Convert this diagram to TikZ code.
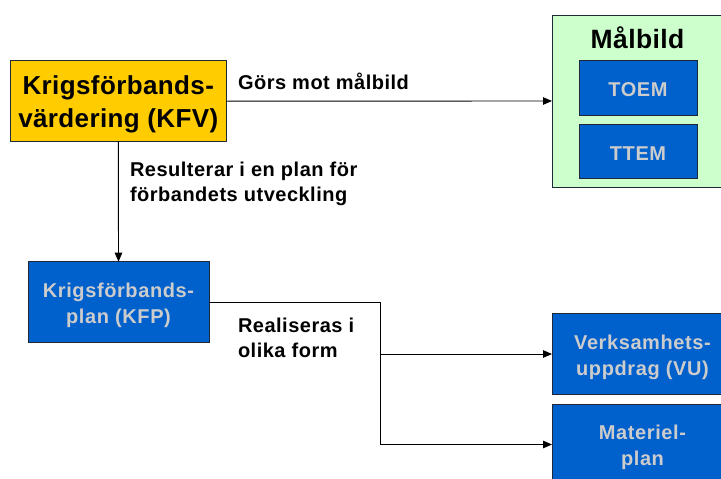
\documentclass[tikz,border=0pt]{standalone}
\usepackage{fontspec}
\setmainfont{Liberation Sans}
\newfontfamily\labelfont[LetterSpace=2.5]{Liberation Sans}
\newfontfamily\boxfont[LetterSpace=3]{Liberation Sans}
\newfontfamily\headfont[LetterSpace=1.5]{Liberation Sans}
\usetikzlibrary{arrows.meta}
\definecolor{kfvyellow}{RGB}{255,204,0}
\definecolor{goalgreen}{RGB}{204,255,204}
\definecolor{planblue}{RGB}{0,96,204}
\definecolor{boxtext}{RGB}{204,204,204}
\definecolor{edgedark}{RGB}{30,40,55}
% invisible strut that lowers the first line of a two-line box label
\newcommand\firstline[1]{\rule{0pt}{#1}}
\begin{document}
\begin{tikzpicture}[x=1pt,y=-1pt,
  every node/.style={inner sep=0pt,outer sep=0pt},
  bluebox/.style={draw=edgedark,line width=0.9pt,fill=planblue,text=boxtext,
    minimum width=181pt,minimum height=81pt,align=center,
    font=\boxfont\fontsize{20}{26}\selectfont\bfseries},
  smallbox/.style={draw=edgedark,line width=0.9pt,fill=planblue,text=boxtext,
    minimum width=118pt,minimum height=54.5pt,text height=17.4pt,text depth=0pt,
    font=\boxfont\fontsize{20}{24}\selectfont\bfseries},
  lbl/.style={anchor=north west,align=left,text=black,
    font=\labelfont\fontsize{20}{24.5}\selectfont\bfseries},
  conn/.style={line width=0.9pt,draw=black},
  arr/.style={conn,-{Triangle[length=9pt,width=7.5pt]}}]
  \path[use as bounding box,clip] (0,0) rectangle (721,479);

  % evaluation box
  \node[draw=edgedark,line width=0.9pt,fill=kfvyellow,minimum width=216.7pt,
    minimum height=81pt,align=center,
    font=\headfont\fontsize{26}{33}\selectfont\bfseries]
    (kfv) at (118.3,101.2) {\firstline{26pt}Krigsförbands-\\värdering (KFV)};

  % target picture with its two parts
  \node[draw=edgedark,line width=0.9pt,fill=goalgreen,minimum width=172pt,
    minimum height=172pt] (malbild) at (638,101) {};
  \node[anchor=base,font=\headfont\fontsize{26.5}{30}\selectfont\bfseries]
    (malbildtitle) at (637.5,48.3) {Målbild};
  \node[smallbox] (toem) at (638,88) {TOEM};
  \node[smallbox] (ttem) at (638,151.3) {TTEM};

  % plan and its realisations
  \node[bluebox] (kfp) at (118.5,302.2) {\firstline{20.5pt}Krigsförbands-\\plan (KFP)};
  \node[bluebox] (vu) at (642.5,354) {\firstline{20.5pt}Verksamhets-\\uppdrag (VU)};
  \node[bluebox] (mat) at (642.5,444.5) {\firstline{20.5pt}Materiel-\\plan};

  % connectors
  \draw[arr] (kfv.east) -- (malbild.west);
  \draw[arr] (kfv.south) -- (kfp.north);
  \coordinate (split) at (380.7,302.2);
  \draw[conn] (kfp.east) -- (split);
  \draw[arr] (split) |- (mat.west);
  \draw[arr] (split |- vu.west) -- (vu.west);

  % connector labels
  \node[lbl] (lblgoal) at (238,72.8) {Görs mot målbild};
  \node[lbl] (lblplan) at (130,162.5) {Resulterar i en plan för\\förbandets utveckling};
  \node[lbl] (lblreal) at (238,318.3) {Realiseras i\\olika form};
\end{tikzpicture}
\end{document}
